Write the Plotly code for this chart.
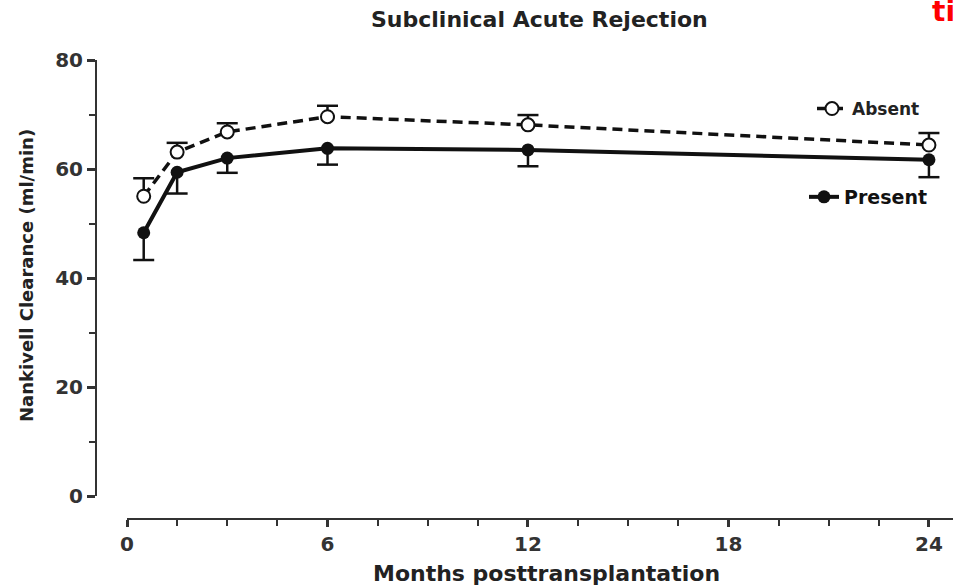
import plotly.graph_objects as go

months = [0.5, 1.5, 3, 6, 12, 24]
absent_mean = [55.0, 63.1, 66.8, 69.6, 68.1, 64.4]
absent_sem = [3.3, 1.7, 1.6, 2.0, 1.8, 2.2]
present_mean = [48.3, 59.4, 62.0, 63.8, 63.5, 61.7]
present_sem = [5.0, 3.9, 2.7, 3.0, 3.0, 3.2]

x_ticks = [0, 6, 12, 18, 24]
y_ticks = [0, 20, 40, 60, 80]

FONT = "DejaVu Sans"
AX = "#333333"

absent_cap = [m + s for m, s in zip(absent_mean, absent_sem)]
present_cap = [m - s for m, s in zip(present_mean, present_sem)]

fig = go.Figure()

# error-bar caps
fig.add_trace(go.Scatter(
    x=months, y=absent_cap, mode="markers", showlegend=False, hoverinfo="skip",
    marker=dict(symbol="line-ew", size=15, line=dict(color="#111", width=2.5)),
))
fig.add_trace(go.Scatter(
    x=months, y=present_cap, mode="markers", showlegend=False, hoverinfo="skip",
    marker=dict(symbol="line-ew", size=15, line=dict(color="#111", width=2.5)),
))

fig.add_trace(go.Scatter(
    x=months, y=present_mean, mode="lines+markers", name="Present",
    legend="legend2",
    line=dict(color="#111", width=4),
    marker=dict(symbol="circle", size=13, color="#111"),
    error_y=dict(type="data", symmetric=False, array=[0] * len(months),
                 arrayminus=present_sem, width=0, thickness=2.5, color="#111"),
))
fig.add_trace(go.Scatter(
    x=months, y=absent_mean, mode="lines+markers", name="Absent",
    legend="legend",
    line=dict(color="#111", width=3.5, dash="10px,6px"),
    marker=dict(symbol="circle", size=13, color="white",
                line=dict(color="#111", width=2)),
    error_y=dict(type="data", symmetric=False, array=absent_sem,
                 arrayminus=[0] * len(months), width=0, thickness=2.5, color="#111"),
))

L, R, T, B = 96, 0, 60, 67
W, H = 953, 586
pw = W - L - R
ph = H - T - B


def px(xp):
    return (xp - L) / pw


def py(yp):
    return (H - B - yp) / ph


fig.update_layout(
    width=W, height=H,
    margin=dict(l=L, r=R, t=T, b=B, autoexpand=False),
    paper_bgcolor="white", plot_bgcolor="white",
    font=dict(family=FONT, color=AX),
    xaxis=dict(
        domain=[px(127), 1], range=[0, 24.72], anchor="free", position=0,
        showgrid=False, zeroline=False, showline=True, linecolor=AX, linewidth=2,
        tickmode="array", tickvals=x_ticks, ticktext=[str(v) for v in x_ticks],
        ticks="outside", ticklen=7, tickwidth=2.5, tickcolor=AX,
        tickfont=dict(family=FONT, size=20, color=AX, weight="bold"),
        minor=dict(dtick=1.5, tick0=0, ticks="outside", ticklen=6, tickwidth=2,
                   tickcolor=AX, showgrid=False),
    ),
    yaxis=dict(
        domain=[py(496), 1], range=[0, 80], anchor="free", position=0,
        showgrid=False, zeroline=False, showline=True, linecolor=AX, linewidth=2,
        tickmode="array", tickvals=y_ticks, ticktext=[str(v) for v in y_ticks],
        ticks="outside", ticklen=8, tickwidth=2.5, tickcolor=AX,
        tickfont=dict(family=FONT, size=20, color=AX, weight="bold"),
        minor=dict(dtick=10, tick0=0, ticks="outside", ticklen=6, tickwidth=2,
                   tickcolor=AX, showgrid=False),
    ),
    legend=dict(x=px(812), y=py(109), xanchor="left", yanchor="middle",
                bgcolor="rgba(0,0,0,0)",
                font=dict(family=FONT, size=17, color="#222", weight="bold")),
    legend2=dict(x=px(804), y=py(197), xanchor="left", yanchor="middle",
                 bgcolor="rgba(0,0,0,0)",
                 font=dict(family=FONT, size=19, color="#111", weight="bold")),
    annotations=[
        dict(text="Subclinical Acute Rejection", x=px(539), y=py(19),
             xref="paper", yref="paper", showarrow=False,
             xanchor="center", yanchor="middle",
             font=dict(family=FONT, size=22, color="#222", weight="bold")),
        dict(text="Months posttransplantation", x=px(546), y=py(573),
             xref="paper", yref="paper", showarrow=False,
             xanchor="center", yanchor="middle",
             font=dict(family=FONT, size=22, color="#222", weight="bold")),
        dict(text="Nankivell Clearance (ml/min)", x=px(26), y=py(276),
             xref="paper", yref="paper", showarrow=False, textangle=-90,
             xanchor="center", yanchor="middle",
             font=dict(family=FONT, size=18, color="#222", weight="bold")),
        dict(text="ti", x=px(930), y=py(12),
             xref="paper", yref="paper", showarrow=False,
             xanchor="left", yanchor="middle",
             font=dict(family=FONT, size=28, color="#ff0000", weight="bold")),
    ],
)

fig.write_html("out.html")
